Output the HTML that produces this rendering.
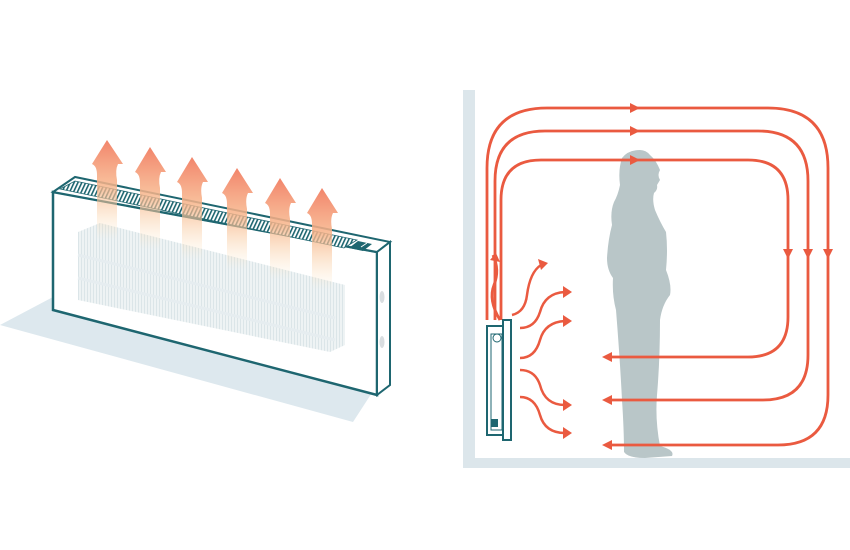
<!DOCTYPE html>
<html><head><meta charset="utf-8"><style>html,body{margin:0;padding:0;background:#fff}svg{display:block}</style></head>
<body>
<svg width="850" height="550" viewBox="0 0 850 550" xmlns="http://www.w3.org/2000/svg">
<defs>
<linearGradient id="ag" x1="0" y1="0" x2="0" y2="1">
<stop offset="0" stop-color="#f2846a"/><stop offset="0.45" stop-color="#f7b48a" stop-opacity="0.85"/><stop offset="1" stop-color="#fbe3b8" stop-opacity="0"/>
</linearGradient>
<pattern id="slat" width="3.5" height="4" patternUnits="userSpaceOnUse" patternTransform="rotate(25)">
<rect width="3.5" height="4" fill="#fff"/><rect width="1.6" height="4" fill="#1e6670"/>
</pattern>
<pattern id="fin" width="3" height="3" patternUnits="userSpaceOnUse">
<rect width="3" height="3" fill="#eef3f4"/><rect width="1" height="3" fill="#dbe5e8"/>
</pattern>
</defs>
<polygon points="0,325 53,297 377,385 353,422" fill="#dde8ee"/>
<polygon points="53,192 377,252 377,395 53,310" fill="#fff" stroke="#1e6670" stroke-width="2.5"/>
<polygon points="78,232 100,223 345,285 345,345 330,352 78,300" fill="url(#fin)"/>
<line x1="78" y1="255" x2="335" y2="318" stroke="#e6edf0" stroke-width="3"/>
<line x1="78" y1="278" x2="335" y2="340" stroke="#e6edf0" stroke-width="3"/>
<polygon points="53,192 75,177 390,242 377,252" fill="#fff" stroke="#1e6670" stroke-width="2"/>
<polygon points="60,189 75,181 357,240 344,248" fill="url(#slat)" stroke="#1e6670" stroke-width="0.8"/>
<polygon points="358,241 372,244 363,251 349,248" fill="#1e6670"/>
<line x1="361" y1="247" x2="367" y2="243" stroke="#fff" stroke-width="1"/>
<polygon points="377,252 390,242 390,385 377,395" fill="#fff" stroke="#1e6670" stroke-width="2"/>
<ellipse cx="382" cy="297" rx="2.5" ry="6" fill="#d9dde0"/>
<ellipse cx="382" cy="342" rx="2.5" ry="6" fill="#d9dde0"/>
<g fill="url(#ag)">
<path d="M97,240 L97,175 Q97,166 92,164 L92,164 L107,140 L123,164 L118,164 Q115,170 117,180 L117,240 Z"/>
<path d="M140,250 L140,183 Q140,174 135,172 L150,147 L166,172 L161,172 Q158,178 160,188 L160,250 Z"/>
<path d="M182,260 L182,193 Q182,184 177,182 L192,157 L208,182 L203,182 Q200,188 202,198 L202,260 Z"/>
<path d="M227,270 L227,204 Q227,195 222,193 L237,168 L253,193 L248,193 Q245,199 247,209 L247,270 Z"/>
<path d="M270,280 L270,214 Q270,205 265,203 L280,178 L296,203 L291,203 Q288,209 290,219 L290,280 Z"/>
<path d="M312,290 L312,224 Q312,215 307,213 L322,188 L338,213 L333,213 Q330,219 332,229 L332,290 Z"/>
</g>
<rect x="463" y="90" width="12" height="378" fill="#dce6eb"/>
<rect x="463" y="458" width="387" height="10" fill="#dce6eb"/>
<path d="M640,150 Q628,150 622,158 Q618,170 620,185 Q618,195 614,202 Q610,212 612,225 Q608,240 607,258 Q607,270 613,278 Q612,295 616,310 Q620,360 622,400 Q624,430 624,452 Q628,458 645,458 L672,456 Q675,450 660,446 Q655,420 657,395 Q660,360 660,320 Q662,305 670,295 Q672,285 666,270 Q668,250 666,232 Q660,222 655,210 Q652,200 654,193 Q658,190 657,185 L660,180 Q657,175 660,170 Q656,160 650,155 Q646,150 640,150 Z" fill="#b9c6c8"/>
<g fill="none" stroke="#ea5a40" stroke-width="2.8">
<path d="M487,320 L487,168 Q487,108 547,108 L768,108 Q828,108 828,168 L828,395 Q828,445 778,445 L605,445"/>
<path d="M495,320 L495,181 Q495,131 545,131 L758,131 Q808,131 808,181 L808,355 Q808,400 763,400 L605,400"/>
<path d="M501,320 L501,200 Q501,160 541,160 L748,160 Q788,160 788,200 L788,317 Q788,357 748,357 L605,357"/>
<path d="M500,320 Q488,300 494,285 Q500,270 493,255"/>
</g>
<g fill="#ea5a40">
<path d="M630,103 L640,108 L630,113 Z"/><path d="M630,126 L640,131 L630,136 Z"/><path d="M630,155 L640,160 L630,165 Z"/>
<path d="M783,249 L788,259 L793,249 Z"/><path d="M803,249 L808,259 L813,249 Z"/><path d="M823,249 L828,259 L833,249 Z"/>
<path d="M612,352 L602,357 L612,362 Z"/><path d="M612,395 L602,400 L612,405 Z"/><path d="M612,440 L602,445 L612,450 Z"/>
<path d="M490,260 L496,253 L500,262 Z"/>
</g>
<g fill="none" stroke="#ea5a40" stroke-width="2.5">
<path d="M512,315 Q525,312 527,295 Q530,272 541,265"/>
<path d="M520,328 Q535,328 540,312 Q545,293 565,292"/>
<path d="M520,358 Q535,358 540,340 Q545,322 565,321"/>
<path d="M520,370 Q535,370 540,385 Q545,405 565,405"/>
<path d="M520,397 Q535,397 540,415 Q545,433 565,433"/>
</g>
<g fill="#ea5a40">
<path d="M538,259 L548,263 L541,270 Z"/>
<path d="M563,286 L572,292 L563,298 Z"/><path d="M563,315 L572,321 L563,327 Z"/>
<path d="M563,399 L572,405 L563,411 Z"/><path d="M563,427 L572,433 L563,439 Z"/>
</g>
<rect x="487" y="326" width="22" height="109" fill="#fff" stroke="#1e6670" stroke-width="2"/>
<rect x="503" y="320" width="8" height="120" fill="#fff" stroke="#1e6670" stroke-width="2"/>
<rect x="491" y="334" width="11" height="96" fill="none" stroke="#1e6670" stroke-width="1"/>
<circle cx="497" cy="338" r="4" fill="none" stroke="#1e6670" stroke-width="1"/>
<rect x="491" y="419" width="7" height="8" fill="#1e6670"/>
</svg>
</body></html>
